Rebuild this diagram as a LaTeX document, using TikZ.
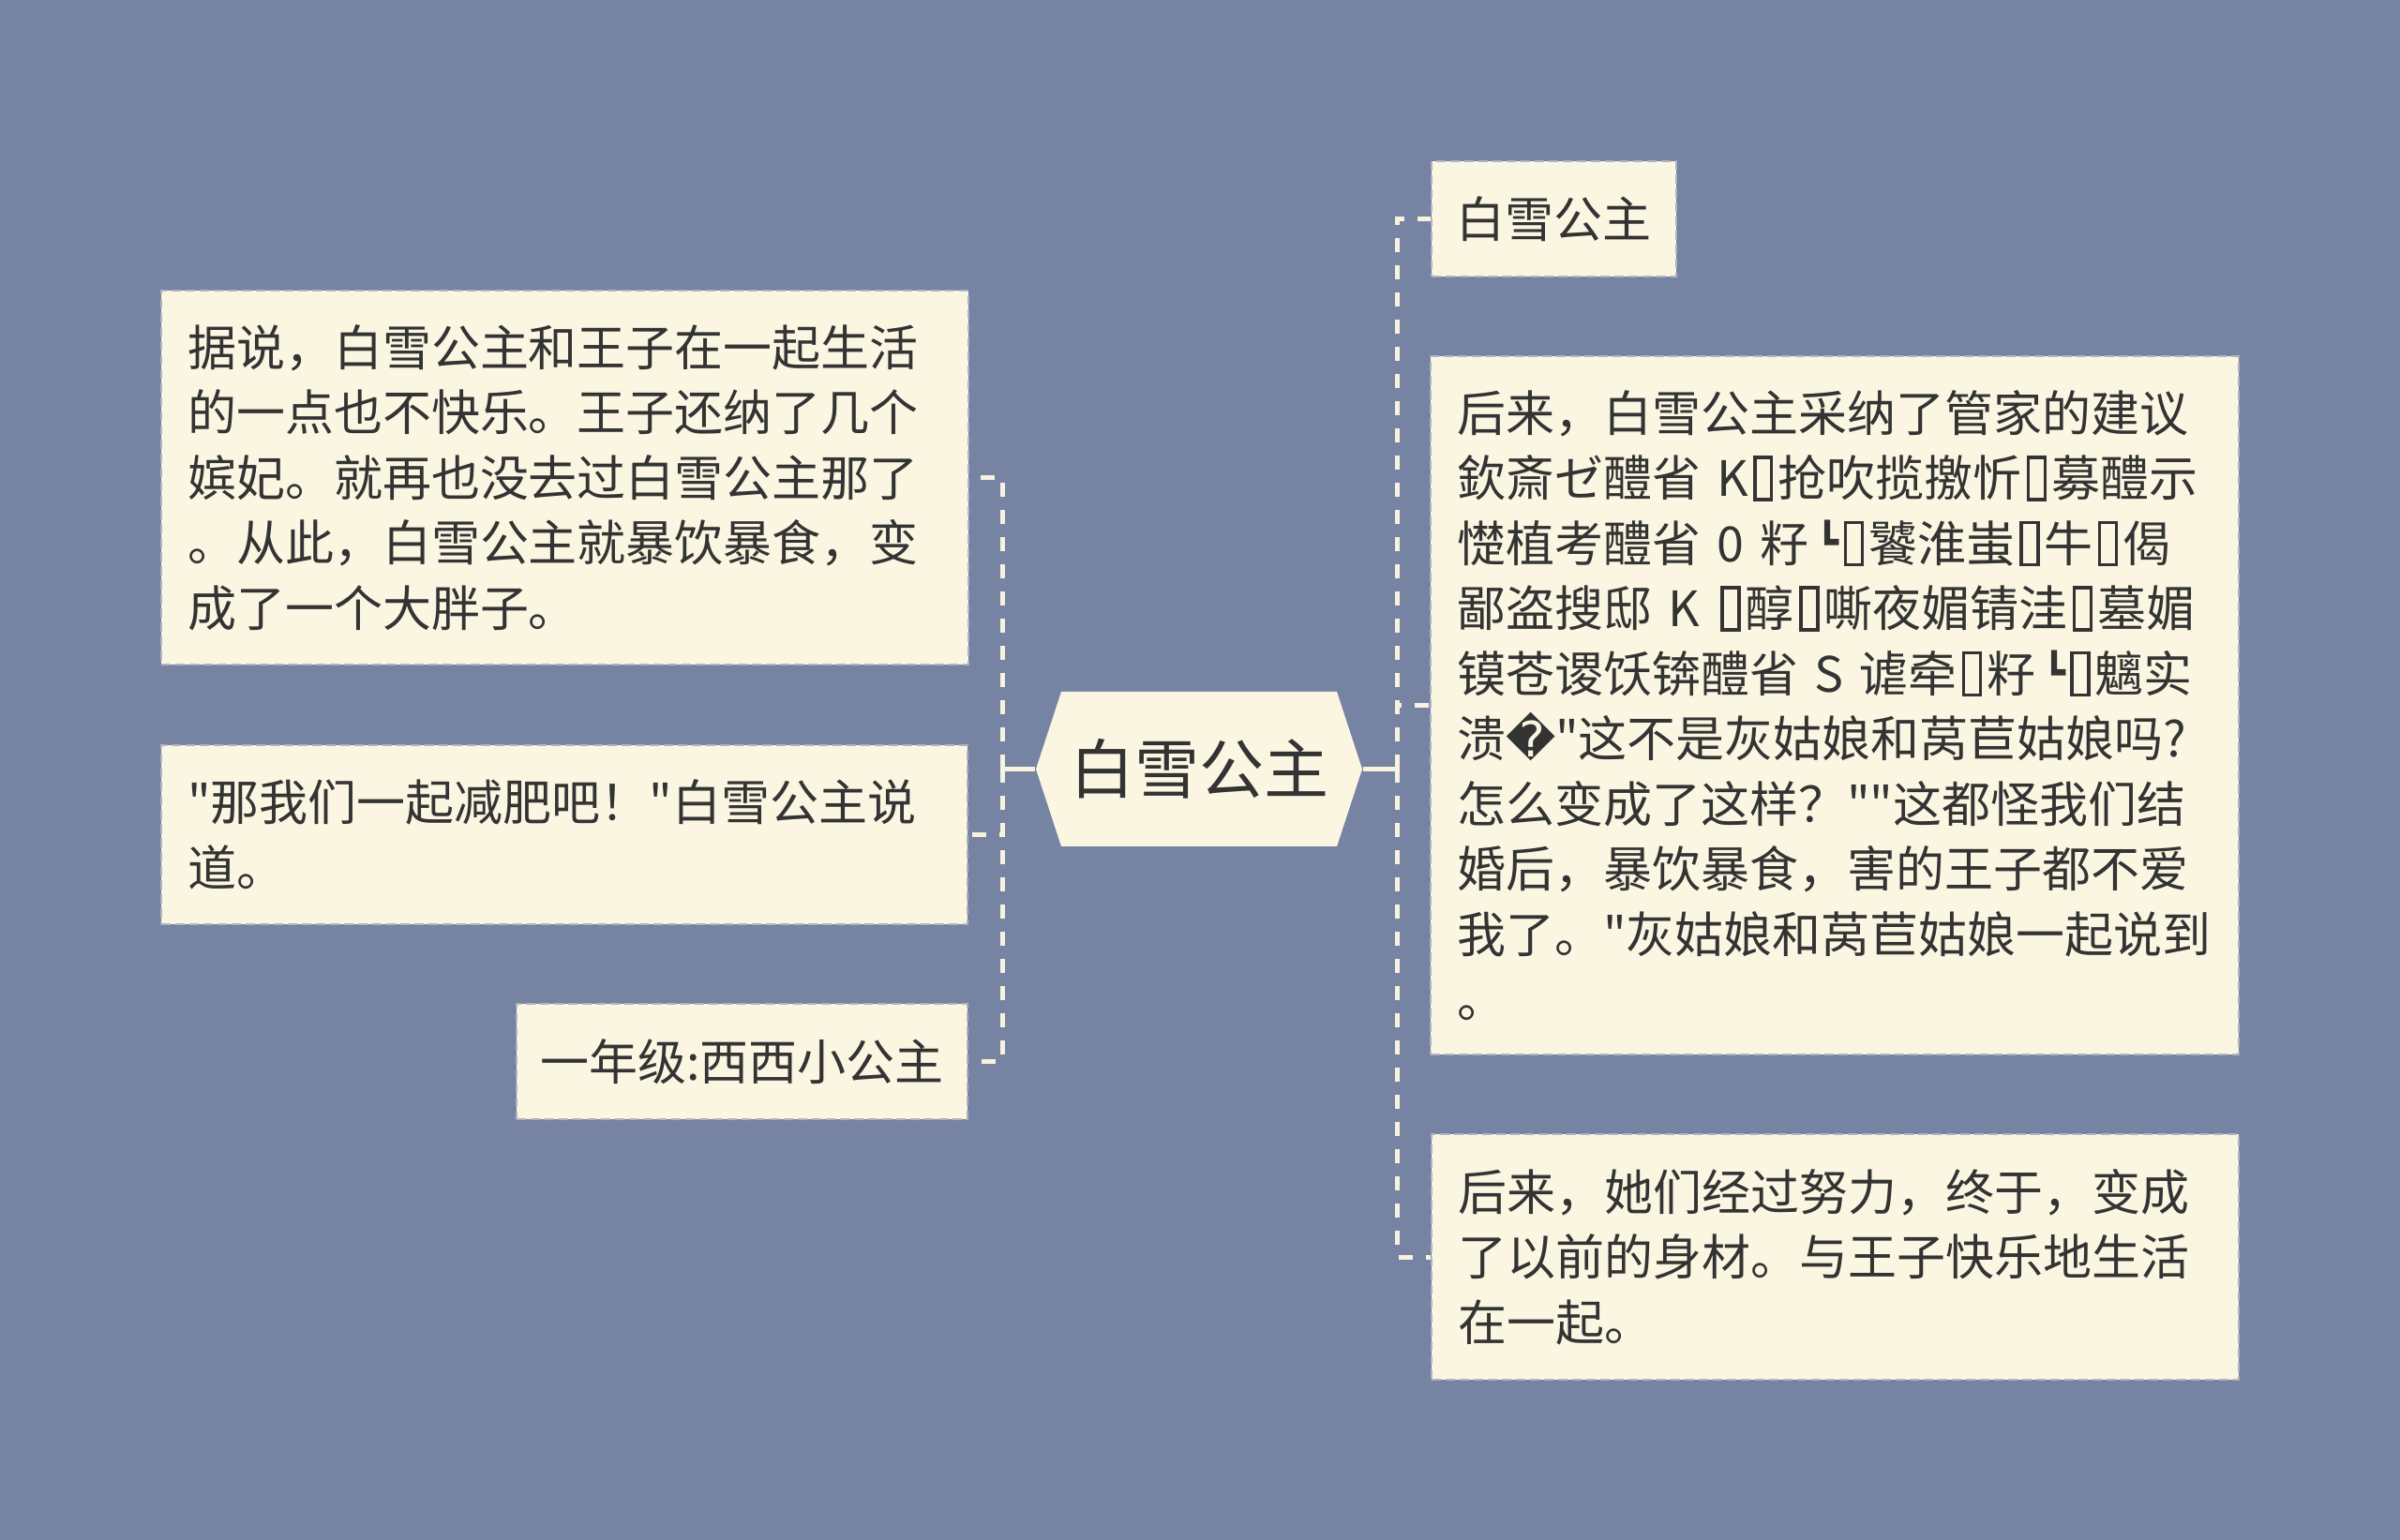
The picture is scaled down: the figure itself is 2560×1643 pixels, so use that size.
\documentclass[tikz,border=0pt]{standalone}
\usepackage{fontspec}
\newfontfamily\cjk{Noto Sans CJK SC}
\newfontfamily\djv{DejaVu Sans}
\setlength\parindent{0pt}
\definecolor{bgc}{RGB}{118,131,163}
\definecolor{cream}{RGB}{250,246,226}
\definecolor{linec}{RGB}{247,243,223}
\definecolor{txt}{RGB}{51,51,51}
\definecolor{bord}{RGB}{176,180,193}
\newcommand\tofu{\kern0.1em\raisebox{-0.03em}{\fboxsep0pt\fboxrule0.065em\fbox{\rule{0pt}{0.8em}\rule{0.28em}{0pt}}}\kern0.1em}
\newcommand\lcorner{\kern0.15em\raisebox{0.12em}{\djv\fontsize{12pt}{12pt}\selectfont ┗}}
\tikzset{
  boxtext/.style={font=\cjk\fontsize{15.6pt}{20.85pt}\selectfont, text=txt},
  leafbox/.style={boxtext, fill=cream, draw=bord, line width=0.75pt, dash pattern=on 3pt off 1.5pt, inner ysep=0pt},
  wrapbox/.style={leafbox, align=left, inner xsep=8.4pt},
  linebox/.style={leafbox, align=center, inner xsep=0pt},
  rootnode/.style={font=\cjk\fontsize{20.7pt}{24pt}\selectfont, text=txt, minimum width=104.4pt, minimum height=49.5pt, inner sep=0pt},
  solidc/.style={draw=linec, line width=1.5pt},
  dashc/.style={draw=linec, line width=1.5pt, dash pattern=on 4.5pt off 4.2pt}
}
\begin{document}
\begin{tikzpicture}[x=0.3pt,y=-0.3pt]
\fill[bgc] (0,0) rectangle (2560,1643);
\useasboundingbox (0,0) rectangle (2560,1643);

% central hexagon
\fill[cream] (1105,820.5) -- (1132,738) -- (1426,738) -- (1453,820.5) -- (1426,903) -- (1132,903) -- cycle;
\node[rootnode] (root) at (1279,820.5) {白雪公主};

% left boxes
\node[wrapbox, text width=241.5pt, minimum height=119.7pt] (b1) at (602.5,509.5)
  {据说，白雪公主和王子在一起生活\\的一点也不快乐。王子还纳了几个\\嫔妃。就再也没去过白雪公主那了\\。从此，白雪公主就暴饮暴食，变\\成了一个大胖子。};
\node[wrapbox, text width=241.2pt, minimum height=57.3pt] (b2) at (602,890.5)
  {"那我们一起减肥吧！"白雪公主说\\道。};
\node[linebox, minimum width=144.3pt, minimum height=36.9pt] (b3) at (791.5,1132.5)
  {一年级:西西小公主};

% right boxes
\node[linebox, minimum width=78.3pt, minimum height=36.9pt] (ra) at (1657.5,233.5)
  {白雪公主};
\node[wrapbox, text width=241.8pt, minimum height=223.5pt] (rb) at (1957,752.5)
  {后来，白雪公主采纳了管家的建议\\
   欽斎ゼ醴省~K\tofu 抢吹揽撽忻\tofu 募醴示\\
   憷植考醴省~0~籽\lcorner\tofu 饕淮蚩\tofu 牛\tofu 偈\\
   鄙盗搜邸~K~\tofu 醇\tofu 嘶夜媚锖洼\tofu 墓媚\\
   镆苍谡饫锛醴省~S~谑牵\tofu 籽\lcorner\tofu 魑实\\
   溃{\djv �}"这不是灰姑娘和莴苣姑娘吗?\\
   怎么变成了这样？""这都怪我们结\\
   婚后，暴饮暴食，害的王子都不爱\\
   我了。"灰姑娘和莴苣姑娘一起说到\\
   。};
\node[wrapbox, text width=241.5pt, minimum height=78.6pt] (rc) at (1957.5,1341)
  {后来，她们经过努力，终于，变成\\了以前的身材。与王子快乐地生活\\在一起。};

% connectors
\coordinate (jl) at (1069,820.5);
\coordinate (jr) at (1490,820.5);
\draw[solidc] (root.west) -- (jl);
\draw[solidc] (root.east) -- (jr);
\draw[dashc] (jl) |- (b1.east);
\draw[dashc] (jl) |- (b2.east);
\draw[dashc] (jl) |- (b3.east);
\draw[dashc] (jr) |- (ra.west);
\draw[dashc] (jr) |- (rb.west);
\draw[dashc] (jr) |- (rc.west);
\end{tikzpicture}
\end{document}
